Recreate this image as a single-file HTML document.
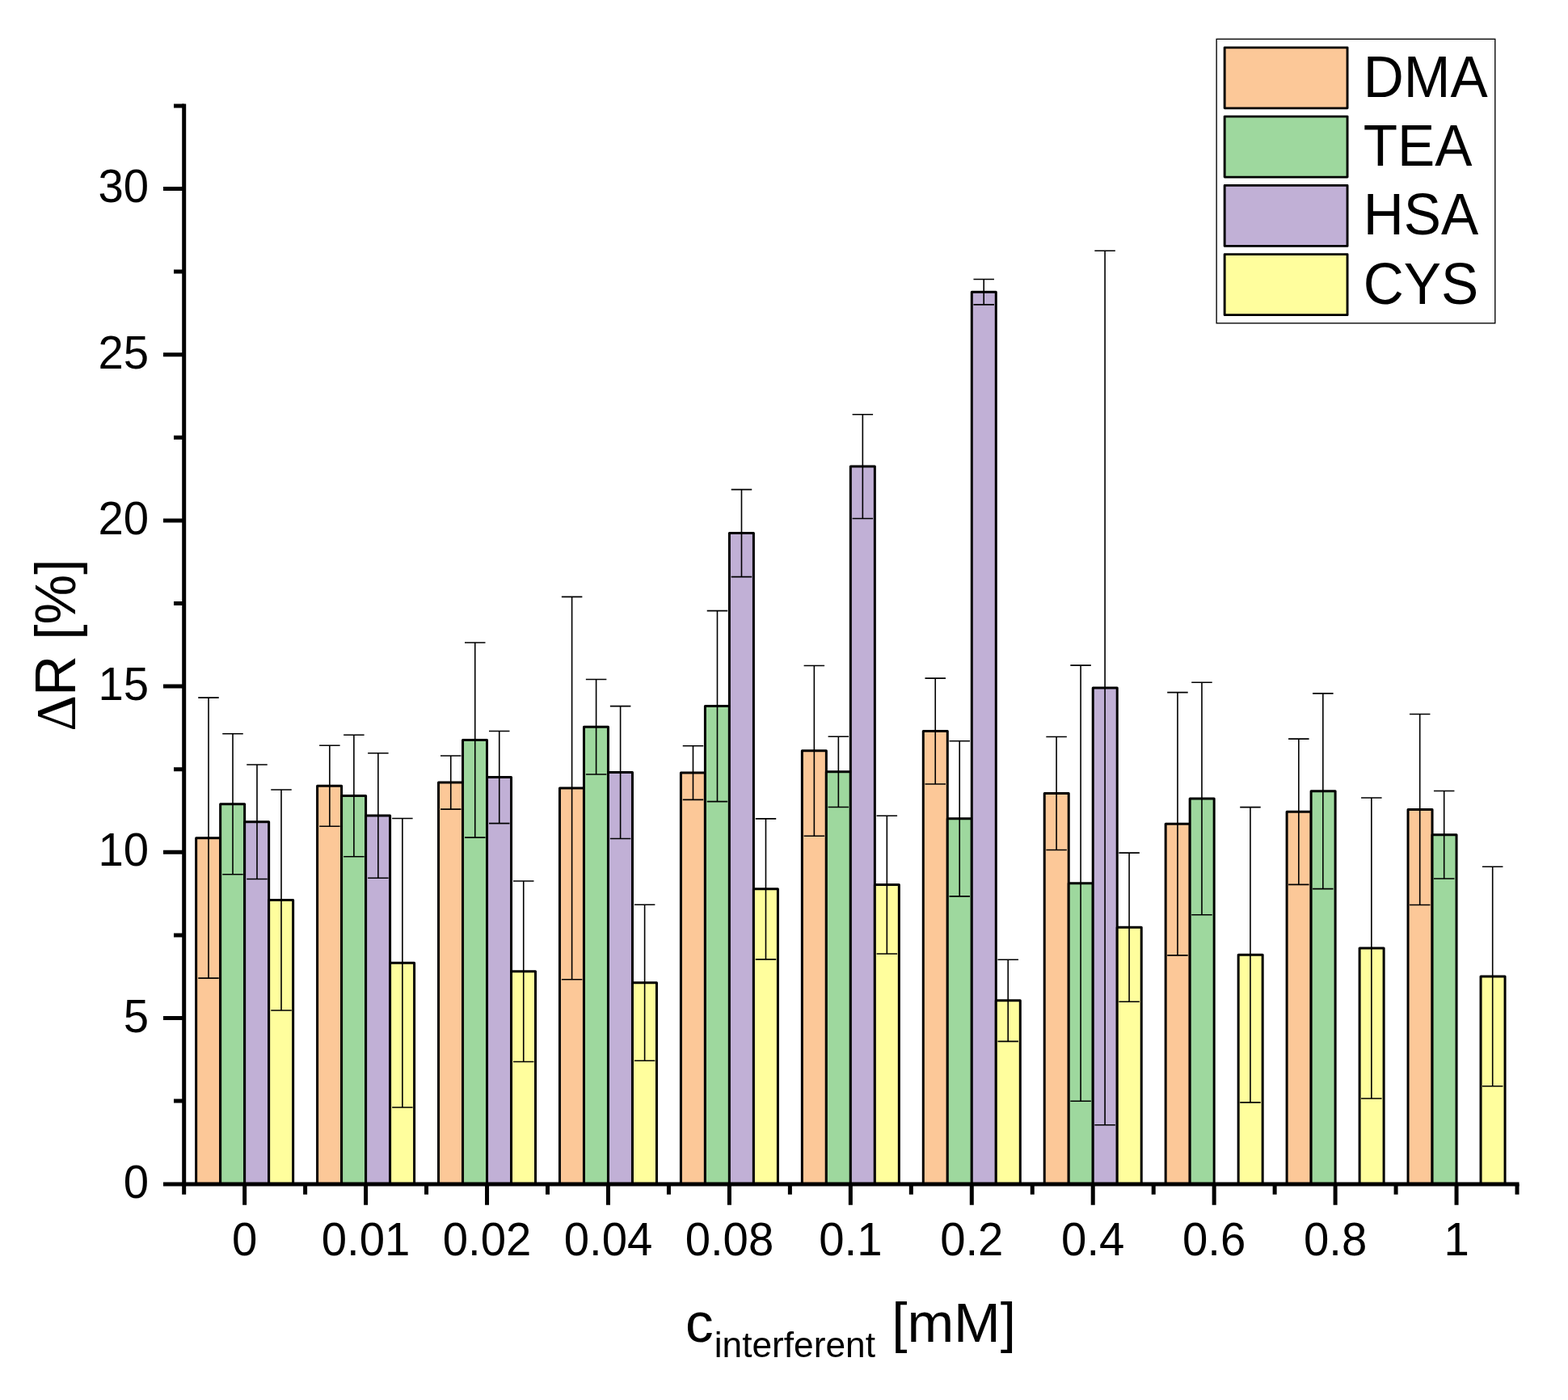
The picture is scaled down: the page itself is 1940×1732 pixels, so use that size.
<!DOCTYPE html>
<html lang="en"><head><meta charset="utf-8"><title>Chart</title>
<style>
html,body{margin:0;padding:0;background:#fff;}
body{width:1940px;height:1732px;overflow:hidden;}
svg{display:block;}
text{font-family:"Liberation Sans",sans-serif;fill:#000;}
.tk{font-size:56.3px;}
.ti{font-size:69.3px;}
.sub{font-size:44.25px;}
.gr{font-family:"Liberation Serif",serif;}
.bar{stroke:#000;stroke-width:3;stroke-linejoin:round;}
.sw{stroke:#000;stroke-width:2.9;stroke-linejoin:round;}
.err{stroke:#000;stroke-width:1.6;fill:none;}
.ax{stroke:#000;stroke-width:5;fill:none;stroke-linecap:butt;}
</style></head><body>
<svg width="1940" height="1732" viewBox="0 0 1940 1732">
<rect x="0" y="0" width="1940" height="1732" fill="#fff"/>
<g id="bars">
<rect class="bar" x="242.65" y="1036.65" width="30" height="428.05" fill="#FCC898"/>
<path class="err" d="M258 863.15V1210.15M245.25 863.15H270.75M245.25 1210.15H270.75"/>
<rect class="bar" x="272.65" y="994.75" width="30" height="469.95" fill="#9ED89E"/>
<path class="err" d="M288 907.75V1081.75M275.25 907.75H300.75M275.25 1081.75H300.75"/>
<rect class="bar" x="302.65" y="1016.75" width="30" height="447.95" fill="#C1B0D6"/>
<path class="err" d="M318 946V1087.5M305.25 946H330.75M305.25 1087.5H330.75"/>
<rect class="bar" x="332.65" y="1113.5" width="30" height="351.2" fill="#FFFE9D"/>
<path class="err" d="M348 977V1250M335.25 977H360.75M335.25 1250H360.75"/>
<rect class="bar" x="392.59" y="972.25" width="30" height="492.45" fill="#FCC898"/>
<path class="err" d="M407.87 922.25V1022.25M395.12 922.25H420.62M395.12 1022.25H420.62"/>
<rect class="bar" x="422.59" y="984.5" width="30" height="480.2" fill="#9ED89E"/>
<path class="err" d="M437.87 909.25V1059.75M425.12 909.25H450.62M425.12 1059.75H450.62"/>
<rect class="bar" x="452.59" y="1009" width="30" height="455.7" fill="#C1B0D6"/>
<path class="err" d="M467.87 931.75V1086.25M455.12 931.75H480.62M455.12 1086.25H480.62"/>
<rect class="bar" x="482.59" y="1191.25" width="30" height="273.45" fill="#FFFE9D"/>
<path class="err" d="M497.87 1012.5V1370M485.12 1012.5H510.62M485.12 1370H510.62"/>
<rect class="bar" x="542.53" y="968.05" width="30" height="496.65" fill="#FCC898"/>
<path class="err" d="M557.74 934.95V1001.15M544.99 934.95H570.49M544.99 1001.15H570.49"/>
<rect class="bar" x="572.53" y="915.55" width="30" height="549.15" fill="#9ED89E"/>
<path class="err" d="M587.74 794.95V1036.15M574.99 794.95H600.49M574.99 1036.15H600.49"/>
<rect class="bar" x="602.53" y="961.55" width="30" height="503.15" fill="#C1B0D6"/>
<path class="err" d="M617.74 904.45V1018.65M604.99 904.45H630.49M604.99 1018.65H630.49"/>
<rect class="bar" x="632.53" y="1201.8" width="30" height="262.9" fill="#FFFE9D"/>
<path class="err" d="M647.74 1090.05V1313.55M634.99 1090.05H660.49M634.99 1313.55H660.49"/>
<rect class="bar" x="692.47" y="975.1" width="30" height="489.6" fill="#FCC898"/>
<path class="err" d="M707.61 738.4V1211.8M694.86 738.4H720.36M694.86 1211.8H720.36"/>
<rect class="bar" x="722.47" y="899.3" width="30" height="565.4" fill="#9ED89E"/>
<path class="err" d="M737.61 840.55V958.05M724.86 840.55H750.36M724.86 958.05H750.36"/>
<rect class="bar" x="752.47" y="955.55" width="30" height="509.15" fill="#C1B0D6"/>
<path class="err" d="M767.61 873.65V1037.45M754.86 873.65H780.36M754.86 1037.45H780.36"/>
<rect class="bar" x="782.47" y="1215.8" width="30" height="248.9" fill="#FFFE9D"/>
<path class="err" d="M797.61 1119.3V1312.3M784.86 1119.3H810.36M784.86 1312.3H810.36"/>
<rect class="bar" x="842.41" y="956.1" width="30" height="508.6" fill="#FCC898"/>
<path class="err" d="M857.48 922.8V989.4M844.73 922.8H870.23M844.73 989.4H870.23"/>
<rect class="bar" x="872.41" y="873.6" width="30" height="591.1" fill="#9ED89E"/>
<path class="err" d="M887.48 755.6V991.6M874.73 755.6H900.23M874.73 991.6H900.23"/>
<rect class="bar" x="902.41" y="659.6" width="30" height="805.1" fill="#C1B0D6"/>
<path class="err" d="M917.48 605.6V713.6M904.73 605.6H930.23M904.73 713.6H930.23"/>
<rect class="bar" x="932.41" y="1099.85" width="30" height="364.85" fill="#FFFE9D"/>
<path class="err" d="M947.48 1012.85V1186.85M934.73 1012.85H960.23M934.73 1186.85H960.23"/>
<rect class="bar" x="992.35" y="928.85" width="30" height="535.85" fill="#FCC898"/>
<path class="err" d="M1007.35 823.45V1034.25M994.6 823.45H1020.1M994.6 1034.25H1020.1"/>
<rect class="bar" x="1022.35" y="954.85" width="30" height="509.85" fill="#9ED89E"/>
<path class="err" d="M1037.35 911.25V998.45M1024.6 911.25H1050.1M1024.6 998.45H1050.1"/>
<rect class="bar" x="1052.35" y="577.1" width="30" height="887.6" fill="#C1B0D6"/>
<path class="err" d="M1067.35 512.7V641.5M1054.6 512.7H1080.1M1054.6 641.5H1080.1"/>
<rect class="bar" x="1082.35" y="1094.6" width="30" height="370.1" fill="#FFFE9D"/>
<path class="err" d="M1097.35 1009.2V1180M1084.6 1009.2H1110.1M1084.6 1180H1110.1"/>
<rect class="bar" x="1142.29" y="904.55" width="30" height="560.15" fill="#FCC898"/>
<path class="err" d="M1157.22 839.15V969.95M1144.47 839.15H1169.97M1144.47 969.95H1169.97"/>
<rect class="bar" x="1172.29" y="1012.8" width="30" height="451.9" fill="#9ED89E"/>
<path class="err" d="M1187.22 916.7V1108.9M1174.47 916.7H1199.97M1174.47 1108.9H1199.97"/>
<rect class="bar" x="1202.29" y="361.2" width="30" height="1103.5" fill="#C1B0D6"/>
<path class="err" d="M1217.22 345.55V376.85M1204.47 345.55H1229.97M1204.47 376.85H1229.97"/>
<rect class="bar" x="1232.29" y="1237.8" width="30" height="226.9" fill="#FFFE9D"/>
<path class="err" d="M1247.22 1187.2V1288.4M1234.47 1187.2H1259.97M1234.47 1288.4H1259.97"/>
<rect class="bar" x="1292.23" y="981.45" width="30" height="483.25" fill="#FCC898"/>
<path class="err" d="M1307.09 911.45V1051.45M1294.34 911.45H1319.84M1294.34 1051.45H1319.84"/>
<rect class="bar" x="1322.23" y="1092.7" width="30" height="372" fill="#9ED89E"/>
<path class="err" d="M1337.09 823.1V1362.3M1324.34 823.1H1349.84M1324.34 1362.3H1349.84"/>
<rect class="bar" x="1352.23" y="851" width="30" height="613.7" fill="#C1B0D6"/>
<path class="err" d="M1367.09 310.25V1391.75M1354.34 310.25H1379.84M1354.34 1391.75H1379.84"/>
<rect class="bar" x="1382.23" y="1147.2" width="30" height="317.5" fill="#FFFE9D"/>
<path class="err" d="M1397.09 1055.1V1239.3M1384.34 1055.1H1409.84M1384.34 1239.3H1409.84"/>
<rect class="bar" x="1442.17" y="1019.25" width="30" height="445.45" fill="#FCC898"/>
<path class="err" d="M1456.96 856.65V1181.85M1444.21 856.65H1469.71M1444.21 1181.85H1469.71"/>
<rect class="bar" x="1472.17" y="988" width="30" height="476.7" fill="#9ED89E"/>
<path class="err" d="M1486.96 844.25V1131.75M1474.21 844.25H1499.71M1474.21 1131.75H1499.71"/>
<rect class="bar" x="1532.17" y="1181.25" width="30" height="283.45" fill="#FFFE9D"/>
<path class="err" d="M1546.96 998.65V1363.85M1534.21 998.65H1559.71M1534.21 1363.85H1559.71"/>
<rect class="bar" x="1592.11" y="1004.25" width="30" height="460.45" fill="#FCC898"/>
<path class="err" d="M1606.83 914.15V1094.35M1594.08 914.15H1619.58M1594.08 1094.35H1619.58"/>
<rect class="bar" x="1622.11" y="978.75" width="30" height="485.95" fill="#9ED89E"/>
<path class="err" d="M1636.83 857.85V1099.65M1624.08 857.85H1649.58M1624.08 1099.65H1649.58"/>
<rect class="bar" x="1682.11" y="1173" width="30" height="291.7" fill="#FFFE9D"/>
<path class="err" d="M1696.83 987V1359M1684.08 987H1709.58M1684.08 1359H1709.58"/>
<rect class="bar" x="1742.05" y="1001.5" width="30" height="463.2" fill="#FCC898"/>
<path class="err" d="M1756.7 883.5V1119.5M1743.95 883.5H1769.45M1743.95 1119.5H1769.45"/>
<rect class="bar" x="1772.05" y="1032.75" width="30" height="431.95" fill="#9ED89E"/>
<path class="err" d="M1786.7 978.5V1087M1773.95 978.5H1799.45M1773.95 1087H1799.45"/>
<rect class="bar" x="1832.05" y="1208" width="30" height="256.7" fill="#FFFE9D"/>
<path class="err" d="M1846.7 1072.25V1343.75M1833.95 1072.25H1859.45M1833.95 1343.75H1859.45"/>
</g>
<g id="axes">
<path class="ax" d="M227.7 128.4V1467.2"/>
<path class="ax" d="M202 1464.9H1879.52"/>
<path class="ax" d="M215 1362.1H227.7M202 1259.5H227.7M215 1156.9H227.7M202 1054.3H227.7M215 951.7H227.7M202 849.1H227.7M215 746.5H227.7M202 643.9H227.7M215 541.3H227.7M202 438.7H227.7M215 336.1H227.7M202 233.5H227.7M215 130.9H227.7"/>
<path class="ax" d="M227.68 1464.7V1477.7M302.65 1464.7V1490.7M377.62 1464.7V1477.7M452.59 1464.7V1490.7M527.56 1464.7V1477.7M602.53 1464.7V1490.7M677.5 1464.7V1477.7M752.47 1464.7V1490.7M827.44 1464.7V1477.7M902.41 1464.7V1490.7M977.38 1464.7V1477.7M1052.35 1464.7V1490.7M1127.32 1464.7V1477.7M1202.29 1464.7V1490.7M1277.26 1464.7V1477.7M1352.23 1464.7V1490.7M1427.2 1464.7V1477.7M1502.17 1464.7V1490.7M1577.14 1464.7V1477.7M1652.11 1464.7V1490.7M1727.08 1464.7V1477.7M1802.05 1464.7V1490.7M1877.02 1464.7V1477.7"/>
</g>
<g id="ylabels">
<text class="tk" text-anchor="end" transform="translate(184 1481.9) scale(1 1.03)">0</text>
<text class="tk" text-anchor="end" transform="translate(184 1276.7) scale(1 1.03)">5</text>
<text class="tk" text-anchor="end" transform="translate(184 1070.9) scale(1 1.03)">10</text>
<text class="tk" text-anchor="end" transform="translate(184 865.7) scale(1 1.03)">15</text>
<text class="tk" text-anchor="end" transform="translate(184 660.8) scale(1 1.03)">20</text>
<text class="tk" text-anchor="end" transform="translate(184 455.6) scale(1 1.03)">25</text>
<text class="tk" text-anchor="end" transform="translate(184 249.9) scale(1 1.03)">30</text>
</g>
<g id="xlabels">
<text class="tk" text-anchor="middle" transform="translate(302.65 1553.2) scale(1 1.03)">0</text>
<text class="tk" text-anchor="middle" transform="translate(452.59 1553.2) scale(1 1.03)">0.01</text>
<text class="tk" text-anchor="middle" transform="translate(602.53 1553.2) scale(1 1.03)">0.02</text>
<text class="tk" text-anchor="middle" transform="translate(752.47 1553.2) scale(1 1.03)">0.04</text>
<text class="tk" text-anchor="middle" transform="translate(902.41 1553.2) scale(1 1.03)">0.08</text>
<text class="tk" text-anchor="middle" transform="translate(1052.35 1553.2) scale(1 1.03)">0.1</text>
<text class="tk" text-anchor="middle" transform="translate(1202.29 1553.2) scale(1 1.03)">0.2</text>
<text class="tk" text-anchor="middle" transform="translate(1352.23 1553.2) scale(1 1.03)">0.4</text>
<text class="tk" text-anchor="middle" transform="translate(1502.17 1553.2) scale(1 1.03)">0.6</text>
<text class="tk" text-anchor="middle" transform="translate(1652.11 1553.2) scale(1 1.03)">0.8</text>
<text class="tk" text-anchor="middle" transform="translate(1802.05 1553.2) scale(1 1.03)">1</text>
</g>
<text class="ti" transform="translate(848 1660) scale(1 1)">c<tspan class="sub" dx="1.1" dy="18.5">interferent</tspan><tspan dx="0.9" dy="-18.5"> [mM]</tspan></text>
<text class="ti" transform="translate(93 904.8) rotate(-90) scale(1 1.02)"><tspan class="gr">Δ</tspan><tspan dx="-0.7">R [%]</tspan></text>
<g id="legend">
<rect x="1505.15" y="48.35" width="344.65" height="351.5" fill="#fff" stroke="#000" stroke-width="1.35"/>
<rect class="sw" x="1515.15" y="58.85" width="151.9" height="75" fill="#FCC898"/>
<text class="ti" transform="translate(1686.8 119.8) scale(1 1.04)">DMA</text>
<rect class="sw" x="1515.15" y="144.12" width="151.9" height="75" fill="#9ED89E"/>
<text class="ti" transform="translate(1686.8 205) scale(1 1.04)">TEA</text>
<rect class="sw" x="1515.15" y="229.39" width="151.9" height="75" fill="#C1B0D6"/>
<text class="ti" transform="translate(1686.8 290.2) scale(1 1.04)">HSA</text>
<rect class="sw" x="1515.15" y="314.66" width="151.9" height="75" fill="#FFFE9D"/>
<text class="ti" transform="translate(1686.8 376.4) scale(1 1.04)">CYS</text>
</g>
</svg>
</body></html>
